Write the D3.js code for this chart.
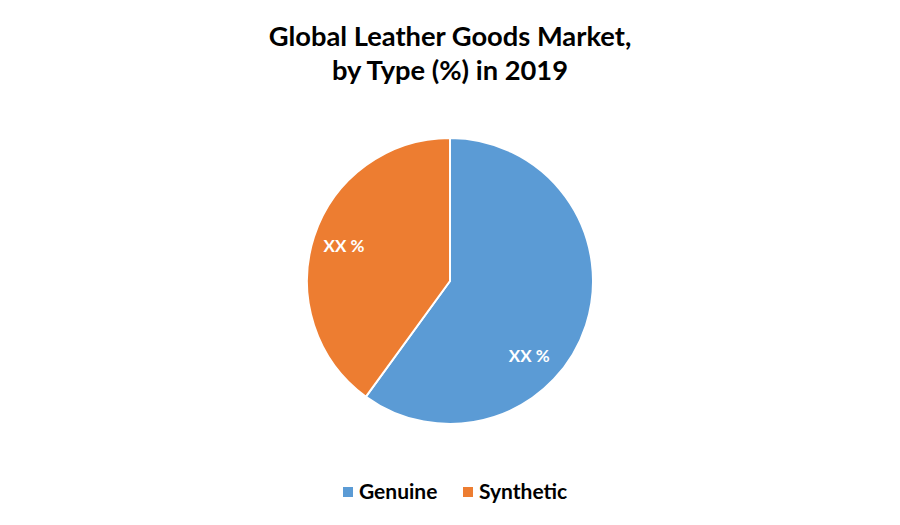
<!DOCTYPE html>
<html>
<head>
<meta charset="utf-8">
<script src="https://cdn.jsdelivr.net/npm/d3@7"></script>
<style>
  body { margin: 0; background: #fff; }
  svg { display: block; font-family: Lato, "Open Sans", sans-serif; }
</style>
</head>
<body>
<svg id="chart"></svg>
<script>
// Pie chart: global leather goods market share by type
const W = 900, H = 525;

const categories = ['Genuine', 'Synthetic'];
const shares = [60, 40];
const labels = ['XX %', 'XX %'];
const colors = ['#5B9BD5', '#ED7D31'];
const titleLines = ['Global Leather Goods Market,', 'by Type (%) in 2019'];

const CX = 450, CY = 281, R = 143;
// Excel "best fit" nudges the labels a bit off the slice centre
const labelRadius = R * 0.775;
const labelAngleShift = [0.46, -0.02];

const svg = d3.select('#chart')
  .attr('width', W)
  .attr('height', H);

// Title
svg.append('g')
  .selectAll('text')
  .data(titleLines)
  .join('text')
  .attr('x', W / 2)
  .attr('y', (d, i) => 46 + i * 34)
  .attr('text-anchor', 'middle')
  .attr('font-size', 27.3)
  .attr('font-weight', 'bold')
  .attr('fill', '#000')
  .text(d => d);

const rows = categories.map((c, i) => ({ name: c, value: shares[i], label: labels[i], color: colors[i], shift: labelAngleShift[i] }));

const pie = d3.pie().sort(null).value(d => d.value);
const arc = d3.arc().innerRadius(0).outerRadius(R);

const g = svg.append('g').attr('transform', `translate(${CX},${CY})`);
const arcs = pie(rows);

g.selectAll('path')
  .data(arcs)
  .join('path')
  .attr('d', arc)
  .attr('fill', d => d.data.color)
  .attr('stroke', '#fff')
  .attr('stroke-width', 2);

g.selectAll('text.lbl')
  .data(arcs)
  .join('text')
  .attr('class', 'lbl')
  .attr('x', d => labelRadius * Math.sin((d.startAngle + d.endAngle) / 2 + d.data.shift))
  .attr('y', d => -labelRadius * Math.cos((d.startAngle + d.endAngle) / 2 + d.data.shift))
  .attr('dy', '0.2em')
  .attr('text-anchor', 'middle')
  .attr('font-size', 17)
  .attr('font-weight', 'bold')
  .attr('fill', '#fff')
  .text(d => d.data.label);

// Legend
const legend = svg.append('g').attr('transform', 'translate(343,492)');
const legendX = [0, 120];
const items = legend.selectAll('g')
  .data(rows)
  .join('g')
  .attr('transform', (d, i) => `translate(${legendX[i]},0)`);

items.append('rect')
  .attr('x', 0)
  .attr('y', -5)
  .attr('width', 10)
  .attr('height', 10)
  .attr('fill', d => d.color);

items.append('text')
  .attr('x', 16)
  .attr('y', 0)
  .attr('dy', '0.35em')
  .attr('font-size', 21)
  .attr('font-weight', 'bold')
  .attr('fill', '#000')
  .text(d => d.name);
</script>
</body>
</html>
